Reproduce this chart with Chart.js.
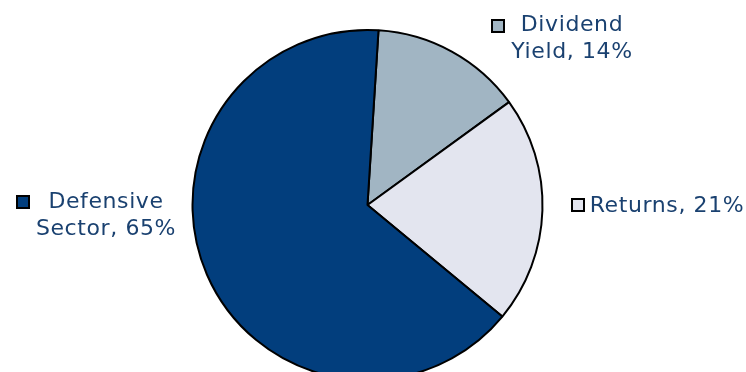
<!DOCTYPE html>
<html>
<head>
<meta charset="utf-8">
<script src="https://cdn.jsdelivr.net/npm/chart.js@4/dist/chart.umd.min.js"></script>
<style>
    html, body { margin: 0; padding: 0; background: #ffffff; }
    #wrap { width: 746px; height: 372px; position: relative; }
</style>
</head>
<body>
<div id="wrap"><canvas id="pieChart"></canvas></div>
<script>
// Chart data
const categories = ['Dividend Yield', 'Returns', 'Defensive Sector'];
const shares = [14, 21, 65];
const sliceColors = ['#a1b5c3', '#e3e5ef', '#023e7d'];

// Label text lines (split the way the original wraps them)
const labelLines = [
    ['Dividend', 'Yield, 14%'],
    ['Returns, 21%'],
    ['Defensive', 'Sector, 65%']
];

// Where each label sits: text centre x, first line y, marker centre
const labelLayout = [
    { x: 572, y: 25, mx: 498, my: 26 },
    { x: 667, y: 206, mx: 578, my: 205 },
    { x: 106, y: 202, mx: 23, my: 202 }
];

const TEXT_COLOR = '#1a4170';
const LINE_HEIGHT = 27;

/**
 * Draws outside labels with the small square markers
 */
const sliceLabels = {
    id: 'sliceLabels',
    afterDraw(chart) {
        const ctx = chart.ctx;
        ctx.save();
        ctx.font = '22px "DejaVu Sans", Verdana, sans-serif';
        ctx.letterSpacing = '0.6px';
        ctx.fillStyle = TEXT_COLOR;
        ctx.textAlign = 'center';
        ctx.textBaseline = 'middle';

        labelLines.forEach((lines, i) => {
            const pos = labelLayout[i];
            lines.forEach((line, j) => {
                ctx.fillText(line, pos.x, pos.y + j * LINE_HEIGHT);
            });

            // marker square
            ctx.fillStyle = chart.data.datasets[0].backgroundColor[i];
            ctx.fillRect(pos.mx - 6, pos.my - 6, 12, 12);
            ctx.strokeStyle = '#000000';
            ctx.lineWidth = 2;
            ctx.strokeRect(pos.mx - 6, pos.my - 6, 12, 12);
            ctx.fillStyle = TEXT_COLOR;
        });
        ctx.restore();
    }
};

const ctx = document.getElementById('pieChart').getContext('2d');
const pieChart = new Chart(ctx, {
    type: 'pie',
    data: {
        labels: categories,
        datasets: [{
            data: shares,
            backgroundColor: sliceColors,
            borderColor: '#000000',
            borderWidth: 2,
            radius: 175
        }]
    },
    options: {
        responsive: true,
        maintainAspectRatio: false,
        animation: false,
        rotation: 3.6,
        layout: {
            padding: { top: 38, bottom: 0, left: 0, right: 11 }
        },
        plugins: {
            legend: { display: false },
            tooltip: { enabled: false }
        }
    },
    plugins: [sliceLabels]
});
</script>
</body>
</html>
